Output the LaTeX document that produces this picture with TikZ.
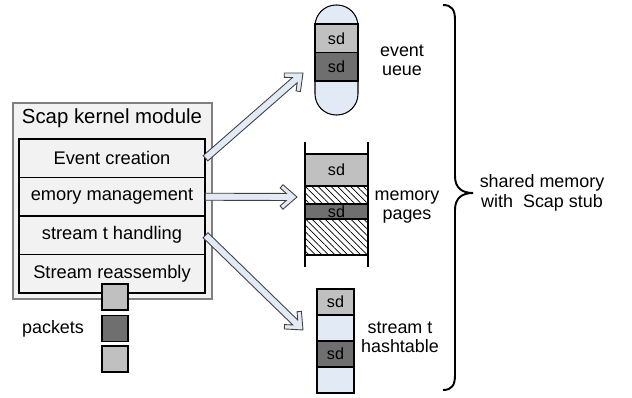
\documentclass[tikz,border=0pt]{standalone}
\usepackage{fontspec}
\setmainfont{Liberation Sans}
\usetikzlibrary{calc,patterns.meta}

\definecolor{paleblue}{HTML}{E2EAF6}
\definecolor{boxgray}{HTML}{F2F2F2}
\definecolor{sdlight}{HTML}{C0C0C0}
\definecolor{sddark}{HTML}{6F6F6F}

\tikzset{
  fatarrow/.style={fill=paleblue, draw=black!75, line width=0.5pt, line join=miter},
  hatch/.style={draw, line width=0.6pt, pattern={Lines[angle=-45,distance=2.6pt,line width=0.4pt]}},
  twoline/.style={align=center, font=\fontsize{10.2}{11}\selectfont}
}

% hollow block arrow from #1 to #2
\newcommand{\fatarrow}[2]{%
  \filldraw[fatarrow] let \p1=($(#2)-(#1)$), \n1={atan2(\y1,\x1)}, \n2={veclen(\x1,\y1)} in
    ($(#1)+(\n1+90:2pt)$) -- ($(#1)+(\n1:\n2-6.1pt)+(\n1+90:2pt)$)
    -- ($(#1)+(\n1:\n2-9.6pt)+(\n1+90:5.1pt)$) -- ($(#1)+(\n1:\n2-8pt)+(\n1+90:7pt)$)
    -- (#2)
    -- ($(#1)+(\n1:\n2-8pt)+(\n1-90:7pt)$) -- ($(#1)+(\n1:\n2-9.6pt)+(\n1-90:5.1pt)$)
    -- ($(#1)+(\n1:\n2-6.1pt)+(\n1-90:2pt)$) -- ($(#1)+(\n1-90:2pt)$) -- cycle;}

\begin{document}
\begin{tikzpicture}[x=0.02cm, y=-0.02cm]
        \useasboundingbox (0,0) rectangle (632,398);
        % kernel module
        \node [draw=black!50, line width=1.6pt, fill=boxgray, minimum width=3.98cm, minimum height=3.92cm] (K) at (112.5,201) {};
        \node [font=\fontsize{11.6}{13}\selectfont] (T) at (112,118) {Scap kernel module};
        \begin{scope}[every node/.style={draw, line width=0.6pt, fill=boxgray, minimum width=3.72cm, minimum height=0.77cm, inner sep=0, font=\fontsize{10.4}{12}\selectfont}]
                \node (Ev) at (112,158.25) {Event creation};
                \node (Mem) at (112,196.75) {emory management};
                \node (St) at (112,235.25) {stream t handling};
                \node (Re) at (112,273.75) {Stream reassembly};
        \end{scope}
        % packets
        \begin{scope}[every node/.style={draw, line width=0.6pt, minimum size=0.52cm, inner sep=0}]
                \node [fill=sdlight] (P1) at (115,297) {};
                \node [fill=sddark] (P2) at (115,328.5) {};
                \node [fill=sdlight] (P3) at (115,359) {};
        \end{scope}
        \node [font=\fontsize{10.2}{12}\selectfont] (pk) at (53,329) {packets};
        % event queue
        \node [draw, line width=0.6pt, fill=paleblue, rounded corners=12pt, minimum width=0.86cm, minimum height=2.2cm] (Q) at (336.5,60) {};
        \begin{scope}[every node/.style={draw, line width=0.6pt, minimum width=0.86cm, inner sep=0, font=\fontsize{9.2}{10}\selectfont}]
                \node [fill=sdlight, minimum height=0.57cm] (Q1) at (336.5,38.25) {sd};
                \node [fill=sddark, minimum height=0.57cm] (Q2) at (336.5,66.75) {sd};
                % memory pages
                \node [fill=sdlight, minimum width=1.26cm, minimum height=0.64cm] (M1) at (336.5,170) {sd};
                \node [fill=sddark, minimum width=1.26cm, minimum height=0.3cm] (M2) at (336.5,211.5) {sd};
                % hashtable
                \node [fill=sdlight, minimum width=0.74cm, minimum height=0.52cm] (H1) at (335.5,302) {sd};
                \node [fill=paleblue, minimum width=0.74cm, minimum height=0.52cm] (H2) at (335.5,328) {};
                \node [fill=sddark, minimum width=0.74cm, minimum height=0.52cm] (H3) at (335.5,354) {sd};
                \node [fill=paleblue, minimum width=0.74cm, minimum height=0.52cm] (H4) at (335.5,380) {};
        \end{scope}
        \draw [hatch] (M1.south west) rectangle (M2.north east);
        \draw [hatch] (M2.south west) rectangle (368,255);
        \draw [line width=0.6pt] (305,142) -- (305,267) (368,142) -- (368,267);
        % labels
        \node [twoline] (ql) at (402,60) {event\\ueue};
        \node [twoline] (pl) at (407,207) {memory\\pages};
        \node [twoline] (hl) at (400,337) {stream t\\hashtable};
        \node [twoline] (sl) at (542,193) {shared memory\\with~ Scap stub};
        \draw [line width=1.1pt] (443,5) .. controls (452,5) and (455,10) .. (455,20) -- (455,176)
                .. controls (455,188) and (462,193) .. (473,193)
                .. controls (462,193) and (455,198) .. (455,210) -- (455,375)
                .. controls (455,385) and (452,390) .. (443,390);
        % arrows
        \coordinate (qin) at (303,73);
        \coordinate (pin) at (297,197);
        \coordinate (hin) at (303,330);
        \fatarrow{Ev.east}{qin}
        \fatarrow{Mem.east}{pin}
        \fatarrow{St.east}{hin}
\end{tikzpicture}
\end{document}
